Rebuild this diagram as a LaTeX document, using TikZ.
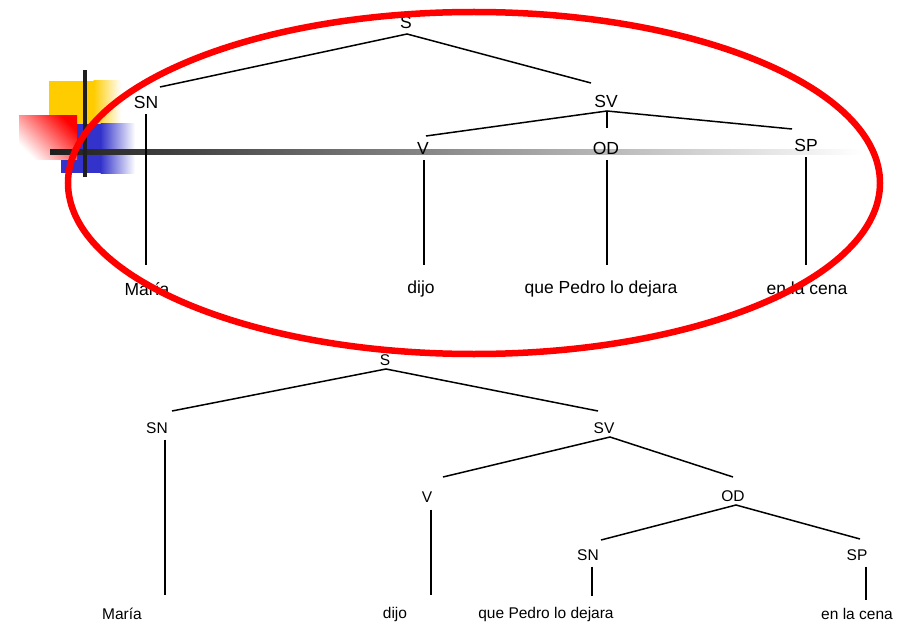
\documentclass[tikz,border=0pt]{standalone}
\usepackage{fontspec}
\setmainfont{Liberation Sans}
\definecolor{ornyellow}{RGB}{255,204,0}
\definecolor{ornblue}{RGB}{51,51,204}
\begin{document}
\begin{tikzpicture}[x=1pt,y=-1pt,
  lbl/.style={inner sep=0pt,font=\fontsize{17.5}{20}\selectfont},
  lbs/.style={inner sep=0pt,font=\fontsize{15.5}{18}\selectfont},
  edge/.style={line width=1.5pt,black}]
\useasboundingbox (0,0) rectangle (910,623);
\fill[white] (0,0) rectangle (910,623);

% corner ornament: coloured blocks, crossing rules, fading bar
\fill[ornyellow] (49,81) rectangle (94,124);
\shade[left color=ornyellow,right color=white] (93.5,81) rectangle (121,124);
\fill[ornblue] (61,124) rectangle (101,173);
\shade[left color=ornblue,right color=white] (100.5,124) rectangle (135,173);
\shade[top color=red,middle color=red!45,bottom color=white,shading angle=-45] (19,116) rectangle (77,159);
\shade[left color=black!88,middle color=black!38,right color=white] (50,150) rectangle (862,154.5);
\fill[black!88] (83,70) rectangle (87,177);

% upper tree
\node[lbl] (S)   at (406,22)  {S};
\node[lbl] (SN)  at (146,102) {SN};
\node[lbl] (SV)  at (606,101) {SV};
\node[lbl] (V)   at (423,148) {V};
\node[lbl] (OD)  at (606,148) {OD};
\node[lbl] (SP)  at (806,145) {SP};
\node[lbl] (w1)  at (147,289) {María};
\node[lbl] (w2)  at (421,289) {dijo};
\node[lbl] (w3)  at (601,289) {que Pedro lo dejara};
\node[lbl] (w4)  at (807,288) {en la cena};

\coordinate (S-a) at (407,34);
\coordinate (SN-t) at (160,87);
\coordinate (SV-t) at (591,83);
\coordinate (SV-a) at (607,111);
\coordinate (V-t) at (426,136);
\coordinate (OD-t) at (607,128);
\coordinate (SP-t) at (792,129);
\draw[edge] (SN-t) -- (S-a) -- (SV-t);
\draw[edge] (V-t) -- (SV-a) -- (SP-t);
\draw[edge] (SV-a) -- (OD-t);
\draw[edge] (SN.south) ++(0,6) -- (146,265);
\draw[edge] (V.south) ++(1,6) -- (424,265);
\draw[edge] (OD.south) ++(1,6) -- (607,265);
\draw[edge] (SP.south) ++(0,6) -- (806,265);

% lower tree
\node[lbs] (S2)  at (385,360) {S};
\node[lbs] (SN2) at (157,428) {SN};
\node[lbs] (SV2) at (604,428) {SV};
\node[lbs] (V2)  at (427,497) {V};
\node[lbs] (OD2) at (733,496) {OD};
\node[lbs] (SNb) at (588,555) {SN};
\node[lbs] (SPb) at (857,555) {SP};
\node[lbs] (u1)  at (122,614) {María};
\node[lbs] (u2)  at (395,614) {dijo};
\node[lbs] (u3)  at (546,614) {que Pedro lo dejara};
\node[lbs] (u4)  at (857,614) {en la cena};

\coordinate (S2-a) at (386,369);
\coordinate (SN2-t) at (172,411);
\coordinate (SV2-t) at (598,411);
\coordinate (SV2-a) at (610,437);
\coordinate (V2-t) at (443,477);
\coordinate (OD2-t) at (733,477);
\coordinate (OD2-a) at (736,505);
\coordinate (SNb-t) at (601,540);
\coordinate (SPb-t) at (860,539);
\draw[edge] (SN2-t) -- (S2-a) -- (SV2-t);
\draw[edge] (V2-t) -- (SV2-a) -- (OD2-t);
\draw[edge] (SNb-t) -- (OD2-a) -- (SPb-t);
\draw[edge] (SN2.south) ++(8,6) -- (165,595);
\draw[edge] (V2.south) ++(4,7) -- (431,595);
\draw[edge] (SNb.south) ++(4,6) -- (592,596);
\draw[edge] (SPb.south) ++(9,6) -- (866,600);

% highlight ring round the upper tree
\draw[red,line width=6.5pt] (474,183) ellipse [x radius=406, y radius=171];
\end{tikzpicture}
\end{document}
